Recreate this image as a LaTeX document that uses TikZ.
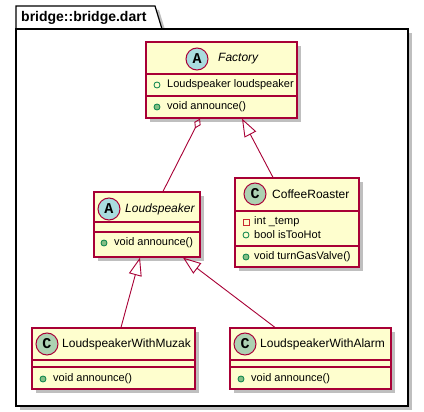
\documentclass[tikz,border=0pt]{standalone}
\usepackage{fontspec}
\setmainfont{Liberation Sans}
\newfontfamily\circfont{Liberation Mono}
\usepackage{tikz}
\usetikzlibrary{positioning}
\usetikzlibrary{calc}
\usetikzlibrary{shadows}
\usetikzlibrary{arrows.meta}
\definecolor{umlred}{HTML}{A80036}
\definecolor{umlfill}{HTML}{FEFECE}
\definecolor{umlA}{HTML}{A9DCDF}
\definecolor{umlC}{HTML}{ADD1B2}
\definecolor{umlgreen}{HTML}{038048}
\definecolor{umlgreenfill}{HTML}{84BE84}
\definecolor{umlpriv}{HTML}{C82930}
\tikzset{pkgbox/.style={draw=black, line width=1.2pt, fill=white, drop shadow={shadow xshift=4pt, shadow yshift=-4pt, fill=black, opacity=0.25}}}
\tikzset{classbox/.style={draw=umlred, line width=1.2pt, fill=umlfill, drop shadow={shadow xshift=4pt, shadow yshift=-4pt, fill=black, opacity=0.25}}}
\tikzset{classline/.style={draw=umlred, line width=1.2pt}}
\tikzset{classname/.style={anchor=west, inner sep=0, font=\fontsize{12}{14}\selectfont}}
\tikzset{member/.style={anchor=west, inner sep=0, font=\fontsize{11}{13}\selectfont}}
\tikzset{circA/.style={circle, draw=umlred, line width=1pt, fill=umlA, minimum size=22pt, inner sep=0, font=\circfont\bfseries\fontsize{15}{15}\selectfont}}
\tikzset{circC/.style={circA, fill=umlC}}
\tikzset{pubField/.style={circle, draw=umlgreen, line width=0.8pt, minimum size=6pt, inner sep=0}}
\tikzset{pubMethod/.style={pubField, fill=umlgreenfill}}
\tikzset{privField/.style={rectangle, draw=umlpriv, line width=0.8pt, minimum size=6pt, inner sep=0}}
\tikzset{inherit/.style={draw=umlred, line width=0.9pt, -{Triangle[open, length=18pt, width=13pt]}}}
\tikzset{aggr/.style={draw=umlred, line width=0.9pt, -{Diamond[open, length=11pt, width=7pt]}}}
\begin{document}
\begin{tikzpicture}[x=1pt, y=-1pt]
\useasboundingbox (0,0) rectangle (424,412);

% package
\draw[pkgbox] (16,29) -- (16,6) -- (155,6) -- (162,29) -- cycle;
\node[pkgbox, minimum width=392pt, minimum height=377pt] (pkg) at (212,217.5) {};
\node[anchor=west, inner sep=0, font=\bfseries\fontsize{14}{16}\selectfont] (pkgname) at (21,17.5) {bridge::bridge.dart};

% Factory
\node[classbox, minimum width=151pt, minimum height=76pt] (factory) at (221.5,80) {};
\draw[classline] (factory.west |- 0,74) -- (factory.east |- 0,74);
\draw[classline] (factory.west |- 0,96) -- (factory.east |- 0,96);
\node[circA] (factoryC) at (197,59) {A};
\node[classname, font=\itshape\fontsize{12}{14}\selectfont] (factoryN) at (218,59) {Factory};
\node[pubField] (factoryI1) at (157,85) {};
\node[member] (factoryF1) at (167,85) {Loudspeaker loudspeaker};
\node[pubMethod] (factoryI2) at (157,107) {};
\node[member] (factoryM1) at (167,107) {void announce()};

% Loudspeaker
\node[classbox, minimum width=106pt, minimum height=65pt] (ls) at (147,224.5) {};
\draw[classline] (ls.west |- 0,222) -- (ls.east |- 0,222);
\draw[classline] (ls.west |- 0,232) -- (ls.east |- 0,232);
\node[circA] (lsC) at (109,209) {A};
\node[classname, font=\itshape\fontsize{12}{14}\selectfont] (lsN) at (125,209) {Loudspeaker};
\node[pubMethod] (lsI1) at (104,243) {};
\node[member] (lsM1) at (114,243) {void announce()};

% CoffeeRoaster
\node[classbox, minimum width=124pt, minimum height=89pt] (coffee) at (297,222.5) {};
\draw[classline] (coffee.west |- 0,211) -- (coffee.east |- 0,211);
\draw[classline] (coffee.west |- 0,246) -- (coffee.east |- 0,246);
\node[circC] (coffeeC) at (255,194) {C};
\node[classname] (coffeeN) at (272,194) {CoffeeRoaster};
\node[privField] (coffeeI1) at (246,222) {};
\node[member] (coffeeF1) at (254,222) {int \_temp};
\node[pubField] (coffeeI2) at (246,235) {};
\node[member] (coffeeF2) at (254,235) {bool isTooHot};
\node[pubMethod] (coffeeI3) at (246,257) {};
\node[member] (coffeeM1) at (254,257) {void turnGasValve()};

% LoudspeakerWithMuzak
\node[classbox, minimum width=163pt, minimum height=61pt] (muzak) at (113.5,358.5) {};
\draw[classline] (muzak.west |- 0,360) -- (muzak.east |- 0,360);
\draw[classline] (muzak.west |- 0,367) -- (muzak.east |- 0,367);
\node[circC] (muzakC) at (47,344) {C};
\node[classname] (muzakN) at (62,344) {LoudspeakerWithMuzak};
\node[pubMethod] (muzakI1) at (43,379) {};
\node[member] (muzakM1) at (53,379) {void announce()};

% LoudspeakerWithAlarm
\node[classbox, minimum width=161pt, minimum height=61pt] (alarm) at (310.5,358.5) {};
\draw[classline] (alarm.west |- 0,360) -- (alarm.east |- 0,360);
\draw[classline] (alarm.west |- 0,367) -- (alarm.east |- 0,367);
\node[circC] (alarmC) at (245,344) {C};
\node[classname] (alarmN) at (260,344) {LoudspeakerWithAlarm};
\node[pubMethod] (alarmI1) at (241,379) {};
\node[member] (alarmM1) at (251,379) {void announce()};

% relations
\draw[aggr] ([xshift=16pt]ls.north) -- ([xshift=-21.5pt]factory.south);
\draw[inherit] ([xshift=-24pt]coffee.north) -- ([xshift=20.5pt]factory.south);
\draw[inherit] ([xshift=7.5pt]muzak.north) -- ([xshift=-7pt]ls.south);
\draw[inherit] ([xshift=-35.5pt]alarm.north) -- ([xshift=36pt]ls.south);

\end{tikzpicture}
\end{document}
